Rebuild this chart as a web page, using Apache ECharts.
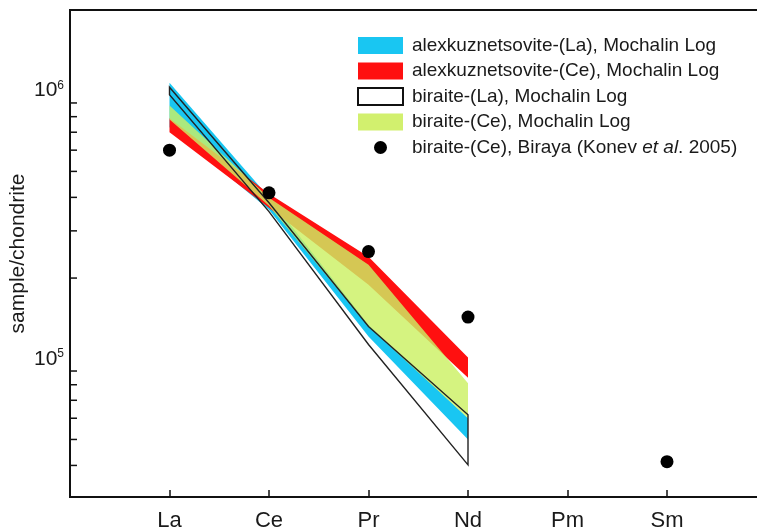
<!DOCTYPE html>
<html>
<head>
<meta charset="utf-8">
<script src="https://cdn.jsdelivr.net/npm/echarts@6/dist/echarts.min.js"></script>
<style>
  html, body { margin: 0; padding: 0; background: #fff; overflow: hidden; }
  /* wider than the window: the right side of the frame is cut off like in the figure */
  #main { width: 880px; height: 528px; }
</style>
</head>
<body>
<div id="main"></div>
<script>
// categories (empty slots pad the frame left of La and right of Sm)
var xCats = ['', 'La', 'Ce', 'Pr', 'Nd', 'Pm', 'Sm', '', ''];
var bandX = [1, 2, 3, 4];   // La, Ce, Pr, Nd

// band ranges, low / high at La, Ce, Pr, Nd
var alexLaLo = [7.3e5, 3.6e5, 1.21e5, 5.0e4];
var alexLaHi = [1.07e6, 4.0e5, 1.34e5, 6.0e4];
var alexCeLo = [7.0e5, 3.66e5, 1.89e5, 8.5e4];
var alexCeHi = [7.9e5, 4.13e5, 2.4e5, 1.01e5];
var birLaLo = [9.66e5, 3.54e5, 1.13e5, 4.02e4];
var birLaHi = [1.03e6, 3.82e5, 1.32e5, 6.18e4];
var birCeLo = [7.8e5, 3.72e5, 1.32e5, 6.0e4];
var birCeHi = [8.8e5, 3.99e5, 2.24e5, 8.1e4];

// Biraya points (Konev et al. 2005)
var birayaX = [1, 2, 3, 4, 6];
var birayaY = [6.0e5, 4.16e5, 2.51e5, 1.43e5, 4.13e4];

// minor ticks on the log axis
var yMinor = [4e4, 5e4, 6e4, 7e4, 8e4, 9e4, 2e5, 3e5, 4e5, 5e5, 6e5, 7e5, 8e5, 9e5];

var names = [
    'alexkuznetsovite-(La), Mochalin Log',
    'alexkuznetsovite-(Ce), Mochalin Log',
    'biraite-(La), Mochalin Log',
    'biraite-(Ce), Mochalin Log',
    'biraite-(Ce), Biraya (Konev et al. 2005)'
];

var FONT = '"Liberation Sans", Arial, sans-serif';

function bandData (lo, hi) {
    return bandX.map(function (x, i) { return [x, lo[i], hi[i]]; });
}

// draws the whole band as one polygon from the first item
function bandRender (style) {
    return function (params, api) {
        if (params.dataIndexInside !== 0) return;
        var top = [], bot = [];
        for (var i = 0; i < params.dataInsideLength; i++) {
            top.push(api.coord([api.value(0, i), api.value(2, i)]));
            bot.unshift(api.coord([api.value(0, i), api.value(1, i)]));
        }
        return {
            type: 'polygon',
            shape: { points: top.concat(bot) },
            style: style
        };
    };
}

function bandSeries (name, lo, hi, color, style) {
    return {
        name: name,
        type: 'custom',
        silent: true,
        itemStyle: { color: color },
        encode: { x: 0, y: [1, 2] },
        data: bandData(lo, hi),
        renderItem: bandRender(style)
    };
}

var myChart = echarts.init(document.getElementById('main'));

var option = {
    backgroundColor: '#fff',
    animation: false,
    grid: {
        left: 70,
        right: 14,
        top: 10,
        bottom: 31,
        containLabel: false,
        outerBoundsMode: 'none',
        show: true,
        borderColor: '#111',
        borderWidth: 2
    },
    legend: {
        orient: 'vertical',
        left: 357,
        top: 36,
        padding: 0,
        itemWidth: 45,
        itemHeight: 17,
        itemGap: 6.5,
        selectedMode: false,
        textStyle: {
            fontFamily: FONT,
            fontSize: 19,
            color: '#1a1a1a',
            padding: [0, 0, 0, 4],
            rich: {
                i: { fontFamily: FONT, fontSize: 19, fontStyle: 'italic', color: '#1a1a1a' }
            }
        },
        formatter: function (name) {
            if (name === names[4]) return 'biraite-(Ce), Biraya (Konev {i|et al}. 2005)';
            return name;
        },
        data: [
            { name: names[0], icon: 'rect' },
            { name: names[1], icon: 'rect' },
            { name: names[2], icon: 'rect', itemStyle: { color: '#fff', borderColor: '#111', borderWidth: 2 } },
            { name: names[3], icon: 'rect' },
            { name: names[4], icon: 'path://M0,0M17,17M8.5,2A6.5,6.5,0,1,0,8.501,2Z' }
        ]
    },
    xAxis: {
        type: 'category',
        data: xCats,
        boundaryGap: false,
        axisLine: { lineStyle: { color: '#111', width: 2 } },
        axisTick: {
            inside: true,
            length: 7,
            lineStyle: { color: '#111', width: 1.5 },
            interval: function (index, value) { return value !== ''; }
        },
        axisLabel: {
            interval: 0,
            margin: 13,
            fontFamily: FONT,
            fontSize: 22,
            color: '#1a1a1a'
        },
        splitLine: { show: false }
    },
    yAxis: {
        type: 'log',
        logBase: 10,
        min: 30500,
        max: 2000000,
        name: 'sample/chondrite',
        nameLocation: 'middle',
        nameGap: 41,
        nameMoveOverlap: false,
        nameTextStyle: { fontFamily: FONT, fontSize: 21, color: '#1a1a1a' },
        axisLine: { show: true, lineStyle: { color: '#111', width: 2 } },
        axisTick: { inside: true, length: 7, lineStyle: { color: '#111', width: 1.5 } },
        splitLine: { show: false },
        axisLabel: {
            margin: 6,
            fontFamily: FONT,
            color: '#1a1a1a',
            formatter: function (v) {
                var e = Math.log10(v);
                if (Math.abs(e - Math.round(e)) > 1e-6) return '';
                e = Math.round(e);
                if (e !== 5 && e !== 6) return '';
                return '{b|10}{s|' + e + '}';
            },
            rich: {
                b: { fontFamily: FONT, fontSize: 21, color: '#1a1a1a', lineHeight: 22 },
                s: { fontFamily: FONT, fontSize: 12, color: '#1a1a1a', verticalAlign: 'top', lineHeight: 22 }
            }
        }
    },
    series: [
        bandSeries(names[0], alexLaLo, alexLaHi, '#19c6f2', { fill: '#19c6f2' }),
        bandSeries(names[1], alexCeLo, alexCeHi, '#ff1010', { fill: '#ff1010' }),
        bandSeries(names[3], birCeLo, birCeHi, '#d2f06e', { fill: 'rgba(204,240,100,0.82)' }),
        bandSeries(names[2], birLaLo, birLaHi, '#fff', { fill: 'none', stroke: '#222', lineWidth: 1.4 }),
        {
            name: names[4],
            type: 'scatter',
            symbol: 'circle',
            symbolSize: 13,
            itemStyle: { color: '#000', opacity: 1 },
            data: birayaX.map(function (x, i) { return [x, birayaY[i]]; })
        },
        {
            name: 'minorTicks',
            type: 'custom',
            silent: true,
            data: yMinor.map(function (v) { return [0, v]; }),
            renderItem: function (params, api) {
                var p = api.coord([0, api.value(1)]);
                return {
                    type: 'line',
                    shape: { x1: p[0], y1: p[1], x2: p[0] + 7, y2: p[1] },
                    style: { stroke: '#111', lineWidth: 1.5 }
                };
            }
        }
    ]
};

myChart.setOption(option);
</script>
</body>
</html>
